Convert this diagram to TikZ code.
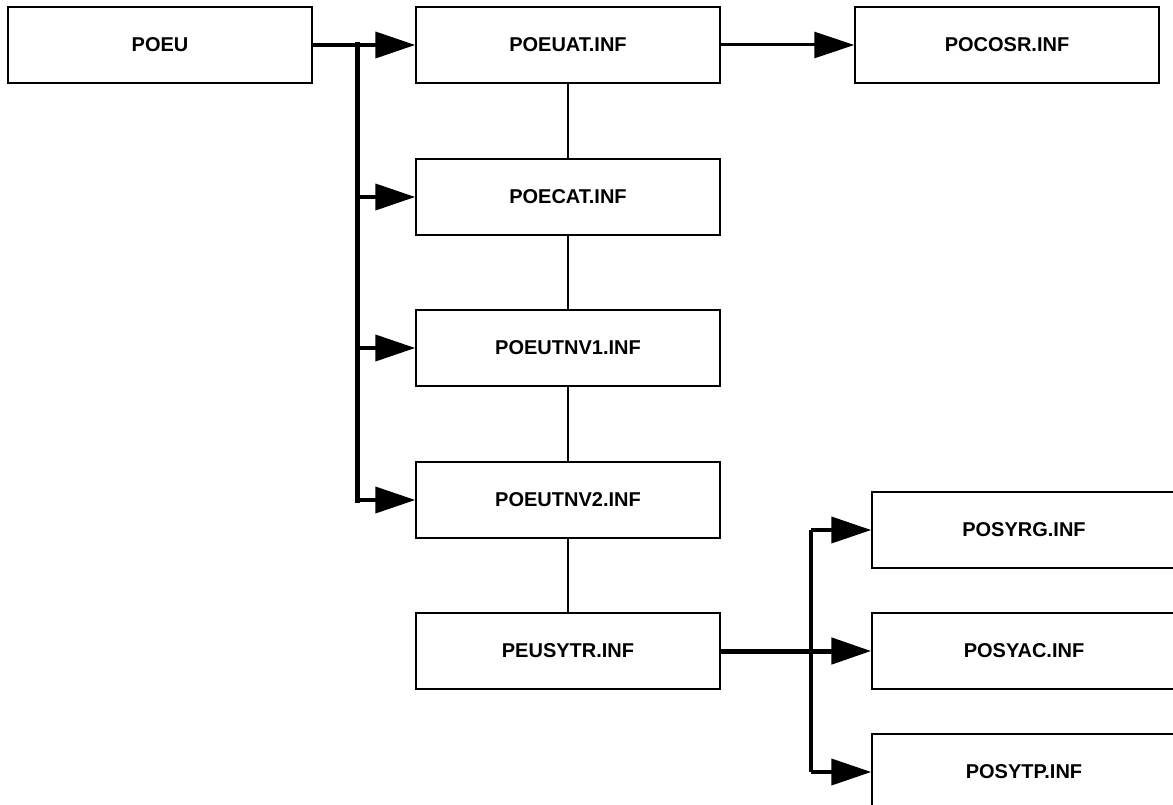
\documentclass[tikz,border=0pt]{standalone}
\usepackage{fontspec}
\setmainfont{Liberation Sans}
\usetikzlibrary{arrows.meta}
\begin{document}
\begin{tikzpicture}[x=1pt,y=-1pt,
  box/.style={draw, line width=1.5pt, minimum width=304pt, minimum height=76pt, inner sep=0pt,
    font=\fontsize{20}{22}\selectfont\bfseries},
  link/.style={line width=2.5pt},
  bus/.style={line width=5pt},
  arr/.style={line width=4pt, -{Triangle[length=40pt,width=26pt]}}]
\clip (0,0) rectangle (1173,805);
\fill[white] (0,0) rectangle (1173,805);
\node[box] (poeu) at (160,45) {POEU};
\node[box] (poeuat) at (568,45) {POEUAT.INF};
\node[box] (pocosr) at (1007,45) {POCOSR.INF};
\node[box] (poecat) at (568,197) {POECAT.INF};
\node[box] (nv1) at (568,348) {POEUTNV1.INF};
\node[box] (nv2) at (568,500) {POEUTNV2.INF};
\node[box] (peusytr) at (568,651) {PEUSYTR.INF};
\node[box] (posyrg) at (1024,530) {POSYRG.INF};
\node[box] (posyac) at (1024,651) {POSYAC.INF};
\node[box] (posytp) at (1024,772) {POSYTP.INF};
% left bus
\coordinate (b1) at (357,45);
\coordinate (b2) at (357,197);
\coordinate (b3) at (357,348);
\coordinate (b4) at (357,500);
\draw[line width=4pt] (poeu.east) -- (b1);
\draw[bus, line cap=rect] (b1) -- (b4);
\draw[arr] (b1) -- (poeuat.west);
\draw[arr] (b2) -- (poecat.west);
\draw[arr] (b3) -- (nv1.west);
\draw[arr] (b4) -- (nv2.west);
\draw[line width=3pt, -{Triangle[length=40pt,width=26pt]}] (poeuat.east) -- (pocosr.west);
% vertical links
\draw[link] (poeuat.south) -- (poecat.north);
\draw[link] (poecat.south) -- (nv1.north);
\draw[link] (nv1.south) -- (nv2.north);
\draw[link] (nv2.south) -- (peusytr.north);
% right bus
\coordinate (r1) at (811,530);
\coordinate (r3) at (811,772);
\draw[line width=4pt] (r1) -- (r3);
\draw[line width=5pt, -{Triangle[length=40pt,width=26pt]}] (peusytr.east) -- (posyac.west);
\draw[arr] (r1) -- (posyrg.west);
\draw[arr] (r3) -- (posytp.west);
\end{tikzpicture}
\end{document}
